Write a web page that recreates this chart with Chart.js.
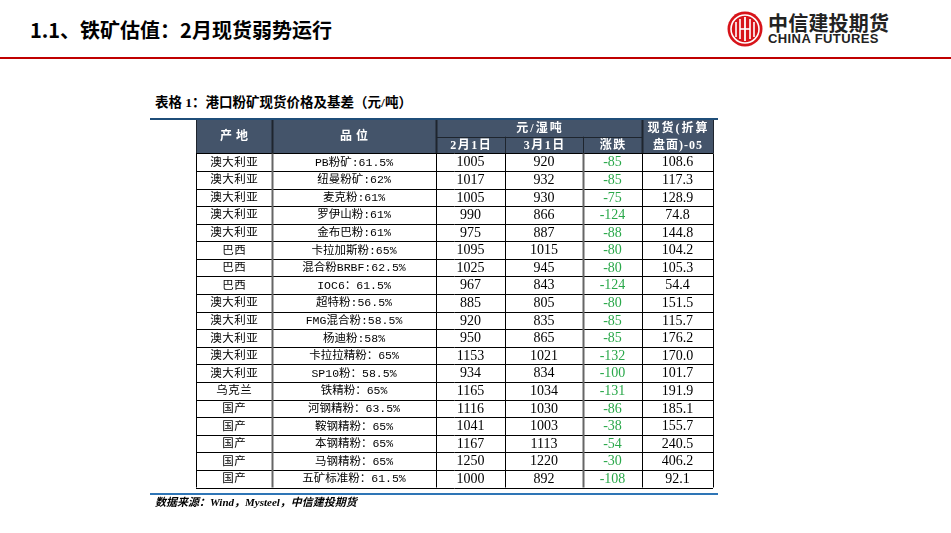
<!DOCTYPE html>
<html>
<head>
<meta charset="utf-8">
<script src="https://cdn.jsdelivr.net/npm/chart.js@4.4.1/dist/chart.umd.min.js"></script>
<style>
  html, body { margin: 0; padding: 0; background: #fff; }
  #page { position: relative; width: 951px; height: 533px; overflow: hidden; background: #fff; }
  .abs { position: absolute; white-space: nowrap; }
  #title { left: 30px; top: 16px; font: bold 20px "Noto Sans CJK SC", sans-serif; line-height: 28px; letter-spacing: 0; color: #000; }
  #logo { left: 727px; top: 11px; }
  #logoCn { left: 768px; top: 11px; font: bold 20px "Noto Sans CJK SC", sans-serif; line-height: 24px; color: #222; letter-spacing: 0.2px; }
  #logoEn { left: 768px; top: 32px; font: bold 13px "Liberation Sans", Arial, sans-serif; line-height: 14px; color: #222; letter-spacing: 0.4px; }
  #redLine { left: 0; top: 57px; width: 951px; height: 2px; background: #c00000; }
  #caption { left: 155px; top: 94px; font: bold 13.5px "Liberation Serif", "Noto Sans CJK SC", serif; line-height: 18px; color: #000; }
  #blueTop { left: 150px; top: 118px; width: 568px; height: 2px; background: #1f4e79; }
  #blueBottom { left: 150px; top: 493px; width: 568px; height: 2px; background: #2e75b6; }
  #source { left: 155px; top: 495px; font: italic bold 11px "Liberation Serif", "Noto Sans CJK SC", serif; line-height: 14px; color: #000; }
  #tableBox { left: 190px; top: 114px; width: 535px; height: 382px; }
</style>
</head>
<body>
<div id="page">
  <div id="title" class="abs">1.1、铁矿估值：2月现货弱势运行</div>
  <svg id="logo" class="abs" width="36" height="36" viewBox="0 0 36 36">
    <circle cx="18" cy="18" r="17.5" fill="#d7141a"/>
    <circle cx="18" cy="18" r="14" fill="none" stroke="#fff" stroke-width="1.6"/>
    <path d="M9 11 V26 M13 8 V28 M23 8 V28 M27 11 V26" stroke="#fff" stroke-width="1.6"/>
    <path d="M13 18 H23" stroke="#fff" stroke-width="1.6"/>
    <path d="M18 6 V30" stroke="#fff" stroke-width="1.8"/>
  </svg>
  <div id="logoCn" class="abs">中信建投期货</div>
  <div id="logoEn" class="abs">CHINA FUTURES</div>
  <div id="redLine" class="abs"></div>
  <div id="caption" class="abs">表格 1：港口粉矿现货价格及基差（元/吨）</div>
  <div id="blueTop" class="abs"></div>
  <div id="tableBox" class="abs"><canvas id="tableChart" width="535" height="382"></canvas></div>
  <div id="blueBottom" class="abs"></div>
  <div id="source" class="abs">数据来源：Wind，Mysteel，中信建投期货</div>
</div>

<script>
// --- dados da tabela ---
const origins = ['澳大利亚', '澳大利亚', '澳大利亚', '澳大利亚', '澳大利亚', '巴西', '巴西', '巴西',
  '澳大利亚', '澳大利亚', '澳大利亚', '澳大利亚', '澳大利亚', '乌克兰', '国产', '国产', '国产', '国产', '国产'];
const grades = ['PB粉矿:61.5%', '纽曼粉矿:62%', '麦克粉:61%', '罗伊山粉:61%', '金布巴粉:61%', '卡拉加斯粉:65%',
  '混合粉BRBF:62.5%', 'IOC6：61.5%', '超特粉:56.5%', 'FMG混合粉:58.5%', '杨迪粉:58%', '卡拉拉精粉：65%',
  'SP10粉：58.5%', '铁精粉：65%', '河钢精粉：63.5%', '鞍钢精粉：65%', '本钢精粉：65%', '马钢精粉：65%', '五矿标准粉：61.5%'];
const priceFeb = [1005, 1017, 1005, 990, 975, 1095, 1025, 967, 885, 920, 950, 1153, 934, 1165, 1116, 1041, 1167, 1250, 1000];
const priceMar = [920, 932, 930, 866, 887, 1015, 945, 843, 805, 835, 865, 1021, 834, 1034, 1030, 1003, 1113, 1220, 892];
const changes = [-85, -85, -75, -124, -88, -80, -80, -124, -80, -85, -85, -132, -100, -131, -86, -38, -54, -30, -108];
const spotBasis = [108.6, 117.3, 128.9, 74.8, 144.8, 104.2, 105.3, 54.4, 151.5, 115.7, 176.2, 170.0, 101.7, 191.9, 185.1, 155.7, 240.5, 406.2, 92.1];

const headOrigin = '产地';
const headGrade = '品位';
const headUnit = '元/湿吨';
const headDates = ['2月1日', '3月1日', '涨跌'];
const headBasis = ['现货(折算', '盘面)-05'];

// --- layout ---
const colEdges = [0, 76, 240, 309, 387, 446, 517];
const headTop = -1.9;
const headMid = -0.95;

const cnFont = '11.5px "Liberation Mono", "Noto Sans CJK SC", monospace';
const numFont = '14px "Liberation Serif", "Noto Sans CJK SC", serif';
const headFont = 'bold 12px "Liberation Serif", "Noto Sans CJK SC", serif';

const tablePlugin = {
  id: 'tableCells',
  afterDraw(chart) {
    const ctx = chart.ctx;
    const px = v => chart.scales.x.getPixelForValue(v);
    const py = v => chart.scales.y.getPixelForValue(v);
    const snap = v => Math.round(v) + 0.5;

    function text(str, c0, c1, r0, r1, font, color, spacing) {
      ctx.font = font;
      ctx.fillStyle = color;
      ctx.letterSpacing = (spacing || 0) + 'px';
      ctx.textAlign = 'center';
      ctx.textBaseline = 'middle';
      ctx.fillText(str, (px(c0) + px(c1)) / 2 + (spacing || 0) / 2, (py(r0) + py(r1)) / 2 + 0.5);
    }
    function hLine(r, c0, c1, color, w) {
      ctx.strokeStyle = color; ctx.lineWidth = w;
      ctx.beginPath(); ctx.moveTo(px(c0), snap(py(r))); ctx.lineTo(px(c1), snap(py(r))); ctx.stroke();
    }
    function vLine(c, r0, r1, color, w) {
      ctx.strokeStyle = color; ctx.lineWidth = w;
      ctx.beginPath(); ctx.moveTo(snap(px(c)), py(r0)); ctx.lineTo(snap(px(c)), py(r1)); ctx.stroke();
    }

    ctx.save();
    const last = colEdges[colEdges.length - 1];

    // header
    ctx.fillStyle = '#44546a';
    ctx.fillRect(px(0), py(headTop), px(last) - px(0), py(0) - py(headTop));
    text(headOrigin, colEdges[0], colEdges[1], headTop, 0, headFont, '#fff', 4);
    text(headGrade, colEdges[1], colEdges[2], headTop, 0, headFont, '#fff', 4);
    text(headUnit, colEdges[2], colEdges[5], headTop, headMid, headFont, '#fff', 2);
    headDates.forEach((h, i) => text(h, colEdges[2 + i], colEdges[3 + i], headMid, 0, headFont, '#fff', 1.5));
    text(headBasis[0], colEdges[5], colEdges[6], headTop, headMid, headFont, '#fff', 2);
    text(headBasis[1], colEdges[5], colEdges[6], headMid, 0, headFont, '#fff', 1);

    // header lines
    hLine(headMid, colEdges[2], colEdges[5], '#1e252e', 1);
    [1, 2, 5].forEach(c => vLine(colEdges[c], headTop, 0, '#1e252e', 2));
    [3, 4].forEach(c => vLine(colEdges[c], headMid, 0, '#1e252e', 1));
    vLine(colEdges[0], headTop, 0, '#1e252e', 1);
    vLine(last, headTop, 0, '#1e252e', 1);

    // data rows
    origins.forEach((o, i) => {
      text(o, colEdges[0], colEdges[1], i, i + 1, cnFont, '#000', 0.5);
      text(grades[i], colEdges[1], colEdges[2], i, i + 1, cnFont, '#000', 0);
      text(String(priceFeb[i]), colEdges[2], colEdges[3], i, i + 1, numFont, '#000', 0);
      text(String(priceMar[i]), colEdges[3], colEdges[4], i, i + 1, numFont, '#000', 0);
      text(String(changes[i]), colEdges[4], colEdges[5], i, i + 1, numFont, '#2aa84a', 0);
      text(spotBasis[i].toFixed(1), colEdges[5], colEdges[6], i, i + 1, numFont, '#000', 0);
    });

    // grid
    for (let r = 0; r <= origins.length; r++) hLine(r, 0, last, '#000', 1);
    colEdges.forEach((c, i) => {
      const gray = (i === 1 || i === 4);
      vLine(c, 0, origins.length, gray ? '#666' : '#000', gray ? 2 : 1);
    });
    ctx.restore();
  }
};

new Chart(document.getElementById('tableChart'), {
  type: 'scatter',
  data: { datasets: [] },
  options: {
    responsive: false,
    animation: false,
    devicePixelRatio: 1,
    layout: { padding: { left: 6, right: 12, top: 6, bottom: 8.5 } },
    plugins: { legend: { display: false }, tooltip: { enabled: false } },
    scales: {
      x: { type: 'linear', min: 0, max: colEdges[colEdges.length - 1], display: false },
      y: { type: 'linear', min: headTop, max: origins.length, reverse: true, display: false }
    }
  },
  plugins: [tablePlugin]
});
</script>
</body>
</html>
